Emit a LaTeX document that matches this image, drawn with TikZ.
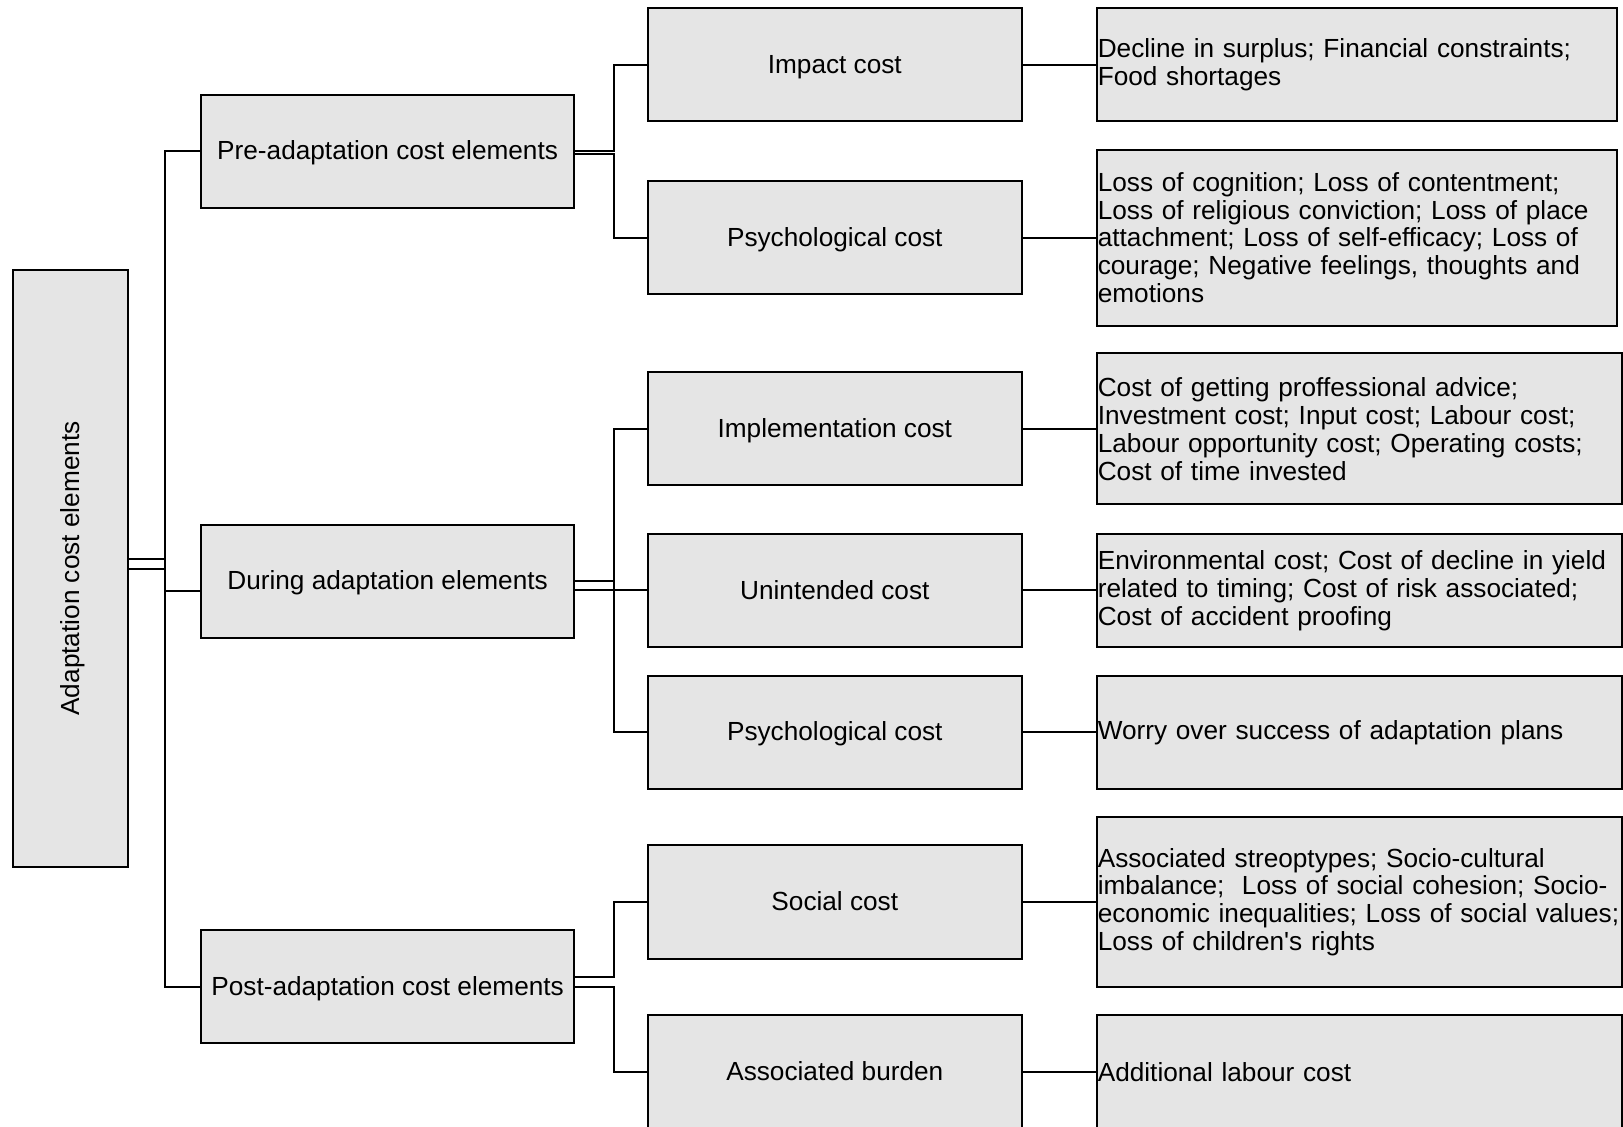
\documentclass[tikz,border=0pt]{standalone}
\usepackage{fontspec}
\setmainfont{Liberation Sans}[Ligatures=TeXOff]
\usepackage{xcolor}
\usepackage{tikz}
\usetikzlibrary{positioning,calc}

\definecolor{boxgray}{gray}{0.9}

\begin{document}
\begin{tikzpicture}[
    x=0.5pt, y=-0.5pt,
    font=\fontsize{13.1}{13.9}\selectfont,
    costbox/.style={draw, line width=1pt, fill=boxgray, minimum width=186.8pt, minimum height=56.5pt, inner sep=1pt, text height=9.6pt, text depth=0.9pt},
    itembox/.style={draw, line width=1pt, fill=boxgray, align=left, text width=262pt, minimum height=56.5pt, inner xsep=0.3pt, inner ysep=1pt},
    link/.style={line width=1pt}
  ]
  \useasboundingbox (0,0) rectangle (1623,1127);

  % root
  \node[costbox, rotate=90, minimum width=298.5pt, minimum height=57.5pt] (root) at (70.5,568.5) {Adaptation cost elements};

  % phases
  \node[costbox] (pre) at (387.6,151.1) {Pre-adaptation cost elements};
  \node[costbox] (during) at (387.6,581.1) {During adaptation elements};
  \node[costbox] (post) at (387.6,986.9) {Post-adaptation cost elements};

  % cost types
  \node[costbox] (impact) at (834.8,64.7) {Impact cost};
  \node[costbox] (psyA) at (834.8,237.6) {Psychological cost};
  \node[costbox] (impl) at (834.8,429) {Implementation cost};
  \node[costbox] (unint) at (834.8,590.5) {Unintended cost};
  \node[costbox] (psyB) at (834.8,732.3) {Psychological cost};
  \node[costbox] (social) at (834.8,902) {Social cost};
  \node[costbox] (burden) at (834.8,1071.8) {Associated burden};

  % cost items
  \node[itembox, text width=259.5pt, right=36.8pt of impact] (decline) {Decline in surplus; Financial constraints;\\Food shortages};
  \node[itembox, text width=259.5pt, minimum height=88pt, right=36.8pt of psyA] (loss) {Loss of cognition; Loss of contentment;\\Loss of religious conviction; Loss of place\\attachment; Loss of self-efficacy; Loss of\\courage; Negative feelings, thoughts and\\emotions};
  \node[itembox, minimum height=75.5pt, right=36.8pt of impl] (advice) {Cost of getting proffessional advice;\\Investment cost; Input cost; Labour cost;\\Labour opportunity cost; Operating costs;\\Cost of time invested};
  \node[itembox, right=36.8pt of unint] (envir) {Environmental cost; Cost of decline in yield\\related to timing; Cost of risk associated;\\Cost of accident proofing};
  \node[itembox, right=36.8pt of psyB] (worry) {Worry over success of adaptation plans};
  \node[itembox, minimum height=85pt, right=36.8pt of social] (stereo) {Associated streoptypes; Socio-cultural\\imbalance;\ \ Loss of social cohesion; Socio-\\economic inequalities; Loss of social values;\\Loss of children's rights};
  \node[itembox, right=36.8pt of burden] (labour) {Additional labour cost};

  % root to phases
  \coordinate (trunk) at ($(pre.west)+(-34.5,0)$);
  \draw[link] ([yshift=4.75pt]root.south) -| (trunk) -- (pre.west);
  \draw[link] ([yshift=-0.25pt]root.south) -| (trunk |- post.west) -- (post.west);
  \draw[link] (trunk) |- ($(during.west)+(0,9.5)$);

  % phases to cost types
  \draw[link] (pre.east) -| ($(impact.west)+(-33,0)$) -- (impact.west);
  \draw[link] ([yshift=-1.5pt]pre.east) -| ($(psyA.west)+(-33,0)$) -- (psyA.west);
  \draw[link] (during.east) -| ($(impl.west)+(-33,0)$) -- (impl.west);
  \draw[link] (during.east) -| ($(psyB.west)+(-33,0)$) -- (psyB.west);
  \draw[link] (during.east |- unint.west) -- (unint.west);
  \draw[link] ([yshift=4.75pt]post.east) -| ($(social.west)+(-33,0)$) -- (social.west);
  \draw[link] (post.east) -| ($(burden.west)+(-33,0)$) -- (burden.west);

  % cost types to items
  \foreach \a/\b in {impact/decline, psyA/loss, impl/advice, unint/envir, psyB/worry, social/stereo, burden/labour}
    \draw[link] (\a.east) -- (\b.west);
\end{tikzpicture}
\end{document}
